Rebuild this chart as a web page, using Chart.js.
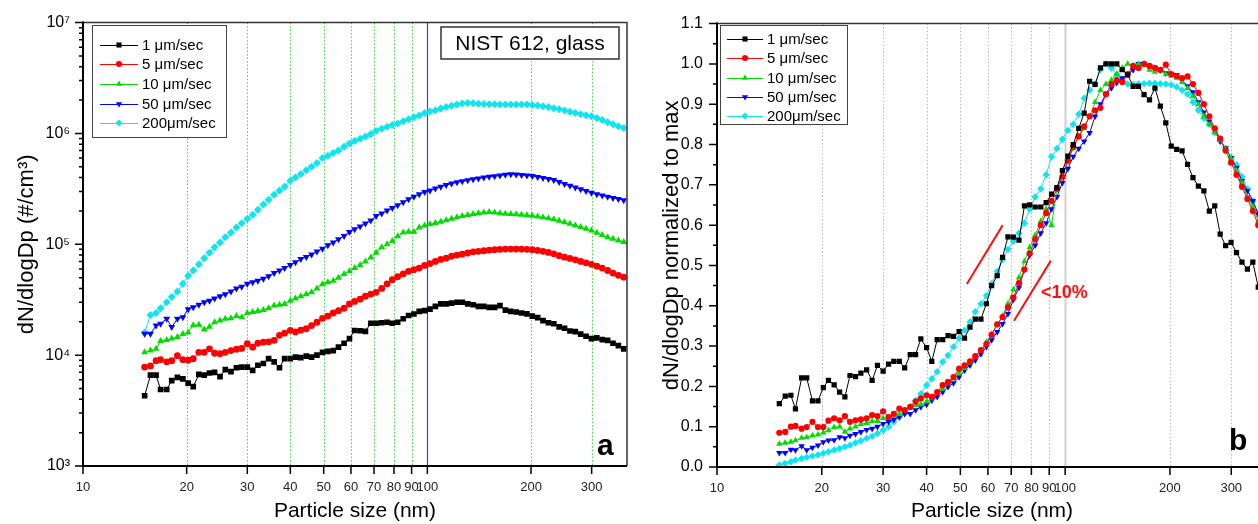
<!DOCTYPE html>
<html>
<head>
<meta charset="utf-8">
<script src="https://cdn.jsdelivr.net/npm/chart.js@4.4.0/dist/chart.umd.min.js"></script>
<style>
    html, body { margin: 0; padding: 0; background: #fff; overflow: hidden; }
    body { width: 1258px; height: 524px; position: relative; }
    .panel { position: absolute; top: 0; height: 524px; }
    #left { left: 0; width: 640px; }
    #right { left: 640px; width: 640px; }
</style>
</head>
<body>
<div class="panel" id="left"><canvas id="chartA"></canvas></div>
<div class="panel" id="right"><canvas id="chartB"></canvas></div>
<script>
// particle size channels (nm)
const sizes = [
    15.1, 15.7, 16.3, 16.8, 17.5, 18.1, 18.8, 19.5, 20.2, 20.9,
    21.7, 22.5, 23.3, 24.1, 25.0, 25.9, 26.9, 27.9, 28.9, 30.0,
    31.1, 32.2, 33.4, 34.6, 35.9, 37.2, 38.5, 40.0, 41.4, 42.9,
    44.5, 46.1, 47.8, 49.6, 51.4, 53.3, 55.2, 57.3, 59.4, 61.5,
    63.8, 66.1, 68.5, 71.0, 73.7, 76.4, 79.1, 82.0, 85.1, 88.2,
    91.4, 94.7, 98.2, 101.8, 105.5, 109.4, 113.4, 117.6, 121.9, 126.3,
    131.0, 135.8, 140.7, 145.9, 151.2, 156.8, 162.5, 168.5, 174.7, 181.1,
    187.7, 194.6, 201.7, 209.1, 216.7, 224.7, 232.9, 241.4, 250.3, 259.5,
    269.0, 278.8, 289.0, 299.6, 310.6, 322.0, 333.8, 346.0, 358.7, 371.8
];

// panel a: dN/dlogDp (#/cm3)
const leftSpeed1 = [
    4300, 6600, 6600, 4900, 4900, 5900, 6300, 6100, 5600, 5200,
    6700, 6600, 6900, 7000, 6400, 7400, 7100, 7700, 7800, 7800,
    7300, 8100, 8400, 9300, 8700, 7700, 9300, 9300, 9600, 9500,
    9800, 9600, 10000, 10600, 10800, 11000, 11800, 12800, 14100, 16700,
    16600, 16400, 19400, 19400, 19600, 19800, 19400, 19800, 21300, 22800,
    23500, 24800, 25200, 26000, 27500, 29000, 29000, 29500, 30000, 30000,
    29000, 28500, 27500, 27500, 27000, 27000, 28000, 25500, 24800, 24500,
    24000, 23600, 22500, 21800, 20500, 19600, 19200, 18000, 17500, 16500,
    16300, 15500, 14800, 14100, 14300, 13800, 13600, 12800, 12200, 11400
];
const leftSpeed5 = [
    7800, 8000, 8900, 9100, 8700, 8900, 9900, 9100, 9000, 9300,
    10600, 10600, 11400, 10400, 10300, 10600, 11000, 11300, 11500, 12700,
    11800, 12800, 13100, 13200, 13600, 15100, 15800, 16700, 16200, 16800,
    17300, 18500, 19800, 21500, 22500, 24000, 25200, 26500, 29000, 30500,
    32000, 34000, 35500, 36900, 40000, 44000, 48000, 51000, 54000, 57000,
    59000, 61000, 64500, 67000, 70000, 73000, 75000, 78000, 80000, 81500,
    83500, 85500, 86500, 87500, 88500, 89500, 90000, 90500, 90500, 90500,
    90500, 90000, 89500, 88000, 86500, 84500, 82000, 79000, 76500, 74500,
    72500, 70000, 68000, 66000, 63500, 61000, 58000, 55000, 52500, 50500
];
const leftSpeed10 = [
    10600, 11000, 11400, 13400, 13700, 14100, 14600, 15500, 16000, 18600,
    18800, 17000, 18000, 19800, 20500, 21300, 21500, 22500, 22000, 24000,
    24500, 25000, 25500, 26500, 28000, 28500, 29000, 31000, 32500, 34000,
    35500, 37000, 40000, 43500, 45500, 47000, 50000, 54000, 57000, 61000,
    65000, 70000, 76000, 84000, 94000, 100000, 107000, 118000, 128000, 130000,
    129000, 142000, 148000, 152000, 156000, 160000, 165000, 170000, 175000, 180000,
    184000, 188000, 191000, 194000, 196000, 194000, 191000, 189000, 188000, 187000,
    185000, 183000, 181000, 178000, 175000, 172000, 168000, 163000, 158000, 153000,
    148000, 143000, 138000, 133000, 127000, 121000, 116000, 112000, 108000, 105000
];
const leftSpeed50 = [
    15600, 15600, 18500, 19200, 21300, 17900, 21300, 22000, 26000, 27000,
    28500, 30000, 31000, 32500, 34000, 35500, 37500, 40000, 41500, 44000,
    45500, 47000, 49000, 51500, 55000, 58000, 61000, 65000, 69000, 73500,
    77000, 81000, 86000, 91000, 98000, 104000, 111000, 119000, 129000, 137000,
    145000, 154000, 164000, 180000, 190000, 202000, 213000, 225000, 240000, 255000,
    268000, 283000, 296000, 306000, 318000, 330000, 342000, 353000, 362000, 370000,
    378000, 386000, 393000, 400000, 406000, 412000, 418000, 424000, 428000, 426000,
    422000, 418000, 413000, 405000, 396000, 388000, 380000, 365000, 350000, 338000,
    326000, 314000, 302000, 292000, 283000, 275000, 268000, 262000, 256000, 250000
];
const leftSpeed200 = [
    16000, 23000, 24000, 26500, 30000, 33500, 37500, 44000, 52000, 58000,
    66000, 75000, 84000, 94000, 104000, 116000, 128000, 142000, 155000, 170000,
    185000, 205000, 228000, 252000, 280000, 305000, 333000, 375000, 400000, 430000,
    465000, 500000, 540000, 600000, 630000, 665000, 700000, 760000, 810000, 855000,
    895000, 940000, 990000, 1060000, 1100000, 1150000, 1190000, 1230000, 1290000, 1340000,
    1400000, 1450000, 1530000, 1580000, 1620000, 1680000, 1730000, 1780000, 1820000, 1860000,
    1880000, 1870000, 1850000, 1840000, 1830000, 1830000, 1820000, 1820000, 1820000, 1820000,
    1820000, 1820000, 1810000, 1790000, 1760000, 1730000, 1690000, 1650000, 1610000, 1570000,
    1530000, 1490000, 1460000, 1430000, 1380000, 1320000, 1260000, 1210000, 1160000, 1120000
];

// panel b: normalized to max
const rightSpeed1 = [
    0.157, 0.176, 0.178, 0.144, 0.221, 0.221, 0.164, 0.164, 0.197, 0.215,
    0.204, 0.186, 0.174, 0.227, 0.224, 0.233, 0.241, 0.215, 0.252, 0.238,
    0.255, 0.262, 0.262, 0.246, 0.279, 0.279, 0.318, 0.296, 0.262, 0.316,
    0.316, 0.326, 0.324, 0.336, 0.320, 0.347, 0.367, 0.367, 0.405, 0.450,
    0.475, 0.520, 0.571, 0.570, 0.563, 0.648, 0.650, 0.645, 0.645, 0.656,
    0.677, 0.693, 0.735, 0.771, 0.800, 0.840, 0.878, 0.957, 0.949, 0.990,
    1.000, 1.000, 1.000, 0.986, 0.973, 0.944, 0.944, 0.924, 0.911, 0.940,
    0.895, 0.854, 0.796, 0.788, 0.784, 0.751, 0.718, 0.697, 0.685, 0.635,
    0.648, 0.578, 0.549, 0.557, 0.532, 0.508, 0.491, 0.508, 0.446, 0.430
];
const rightSpeed5 = [
    0.085, 0.087, 0.100, 0.102, 0.095, 0.099, 0.112, 0.099, 0.099, 0.115,
    0.121, 0.116, 0.126, 0.112, 0.116, 0.118, 0.121, 0.129, 0.126, 0.138,
    0.124, 0.132, 0.145, 0.141, 0.149, 0.162, 0.170, 0.178, 0.174, 0.186,
    0.203, 0.211, 0.223, 0.244, 0.252, 0.262, 0.275, 0.290, 0.305, 0.328,
    0.354, 0.372, 0.396, 0.420, 0.456, 0.490, 0.530, 0.565, 0.600, 0.630,
    0.660, 0.690, 0.720, 0.760, 0.795, 0.820, 0.845, 0.870, 0.885, 0.891,
    0.925, 0.950, 0.960, 0.955, 0.975, 0.995, 0.990, 1.000, 0.995, 0.990,
    0.985, 0.998, 0.975, 0.970, 0.965, 0.969, 0.950, 0.928, 0.900, 0.870,
    0.840, 0.815, 0.785, 0.755, 0.725, 0.695, 0.665, 0.635, 0.600, 0.575
];
const rightSpeed10 = [
    0.057, 0.060, 0.062, 0.066, 0.072, 0.074, 0.078, 0.080, 0.085, 0.091,
    0.099, 0.100, 0.087, 0.095, 0.100, 0.106, 0.109, 0.114, 0.114, 0.121,
    0.121, 0.129, 0.131, 0.141, 0.149, 0.153, 0.155, 0.162, 0.170, 0.182,
    0.194, 0.207, 0.219, 0.232, 0.245, 0.258, 0.272, 0.290, 0.310, 0.330,
    0.352, 0.375, 0.405, 0.440, 0.470, 0.510, 0.545, 0.575, 0.610, 0.640,
    0.600, 0.690, 0.720, 0.760, 0.790, 0.820, 0.840, 0.870, 0.905, 0.935,
    0.950, 0.960, 0.975, 0.990, 1.000, 0.995, 1.000, 1.000, 0.985, 0.980,
    0.985, 0.975, 0.970, 0.965, 0.955, 0.940, 0.920, 0.900, 0.870, 0.850,
    0.830, 0.810, 0.790, 0.765, 0.735, 0.705, 0.670, 0.645, 0.610, 0.590
];
const rightSpeed50 = [
    0.035, 0.035, 0.043, 0.042, 0.052, 0.042, 0.048, 0.054, 0.062, 0.066,
    0.067, 0.074, 0.072, 0.078, 0.082, 0.087, 0.092, 0.095, 0.100, 0.107,
    0.112, 0.118, 0.124, 0.132, 0.132, 0.141, 0.149, 0.155, 0.165, 0.174,
    0.186, 0.199, 0.208, 0.223, 0.240, 0.252, 0.265, 0.280, 0.298, 0.315,
    0.335, 0.355, 0.380, 0.415, 0.445, 0.490, 0.525, 0.550, 0.580, 0.605,
    0.640, 0.670, 0.705, 0.740, 0.770, 0.790, 0.808, 0.829, 0.870, 0.900,
    0.925, 0.940, 0.953, 0.965, 0.975, 0.985, 1.000, 1.000, 0.995, 0.990,
    0.985, 0.977, 0.975, 0.973, 0.960, 0.945, 0.930, 0.905, 0.880, 0.857,
    0.837, 0.808, 0.792, 0.767, 0.742, 0.710, 0.685, 0.660, 0.627, 0.600
];
const rightSpeed200 = [
    0.005, 0.009, 0.013, 0.017, 0.021, 0.024, 0.027, 0.030, 0.034, 0.038,
    0.042, 0.046, 0.050, 0.054, 0.060, 0.065, 0.071, 0.076, 0.083, 0.091,
    0.100, 0.112, 0.124, 0.134, 0.149, 0.165, 0.182, 0.203, 0.219, 0.236,
    0.261, 0.277, 0.298, 0.319, 0.339, 0.360, 0.385, 0.405, 0.425, 0.455,
    0.485, 0.515, 0.540, 0.560, 0.580, 0.605, 0.640, 0.670, 0.690, 0.725,
    0.770, 0.790, 0.813, 0.835, 0.850, 0.875, 0.915, 0.935, 0.950, 0.986,
    1.000, 0.990, 0.973, 0.960, 0.950, 0.949, 0.950, 0.951, 0.952, 0.952,
    0.951, 0.950, 0.948, 0.943, 0.935, 0.925, 0.905, 0.885, 0.865, 0.850,
    0.830, 0.810, 0.790, 0.768, 0.750, 0.720, 0.690, 0.660, 0.630, 0.600
];

const seriesLabels = ["1 \u03bcm/sec", "5 \u03bcm/sec", "10 \u03bcm/sec", "50 \u03bcm/sec", "200\u03bcm/sec"];
const seriesColors = ["#000000", "#ff0000", "#00dd00", "#0000ff", "#10e4ee"];
const seriesMarkers = ["rect", "circle", "triangle", "triangle", "rectRot"];
const markerRotation = [0, 0, 0, 180, 0];

const xTicks = [10, 20, 30, 40, 50, 60, 70, 80, 90, 100, 200, 300];
const xTickLabels = ["10", "20", "30", "40", "50", "60", "70", "80", "90", "100", "200", "300"];
const gridSizes = [20, 30, 40, 50, 60, 70, 80, 90, 100, 200, 300];

const yTicksLeft = [1e3, 1e4, 1e5, 1e6, 1e7];
const yTickLabelsLeft = ["10\u00b3", "10\u2074", "10\u2075", "10\u2076", "10\u2077"];
const yTicksRight = [0, 0.1, 0.2, 0.3, 0.4, 0.5, 0.6, 0.7, 0.8, 0.9, 1.0, 1.1];
const yTickLabelsRight = ["0.0", "0.1", "0.2", "0.3", "0.4", "0.5", "0.6", "0.7", "0.8", "0.9", "1.0", "1.1"];

// red slope marks in panel b: [size, value] pairs
const slopeLines = [
    [[52.2, 0.454], [66.2, 0.600]],
    [[71.3, 0.363], [91.0, 0.512]]
];
const slopeNote = { text: "<10%", at: [85.3, 0.42] };

const FONT = "'Liberation Sans', Arial, Helvetica, sans-serif";
Chart.defaults.font.family = FONT;

// minor tick positions (no labels)
const yMinorLeft = [];
yTicksLeft.slice(0, -1).forEach(d => {
    for (let k = 2; k < 10; k++) yMinorLeft.push(k * d);
});
const yMinorRight = yTicksRight.slice(0, -1).map(v => v + 0.05);

function drawMarker(ctx, style, rot, x, y, r, color) {
    ctx.save();
    ctx.fillStyle = color;
    ctx.translate(x, y);
    ctx.rotate(rot * Math.PI / 180);
    ctx.beginPath();
    if (style === "rect") {
        ctx.rect(-r * 0.71, -r * 0.71, r * 1.42, r * 1.42);
    } else if (style === "circle") {
        ctx.arc(0, 0, r * 0.85, 0, Math.PI * 2);
    } else if (style === "triangle") {
        ctx.moveTo(0, -r);
        ctx.lineTo(r * 0.87, r * 0.5);
        ctx.lineTo(-r * 0.87, r * 0.5);
        ctx.closePath();
    } else {
        ctx.moveTo(0, -r);
        ctx.lineTo(r, 0);
        ctx.lineTo(0, r);
        ctx.lineTo(-r, 0);
        ctx.closePath();
    }
    ctx.fill();
    ctx.restore();
}

const panelDecor = {
    id: "panelDecor",
    beforeDatasetsDraw(chart, args, o) {
        const { ctx, chartArea: a } = chart;
        const x = chart.scales.x;
        ctx.save();
        gridSizes.forEach(v => {
            const px = Math.round(x.getPixelForValue(v)) + 0.5;
            const main = v === 100;
            ctx.beginPath();
            ctx.setLineDash(main ? [] : [1.5, 2]);
            ctx.strokeStyle = main ? o.mainColor : o.gridColor;
            ctx.lineWidth = main ? o.mainWidth : 1;
            ctx.moveTo(px, a.top);
            ctx.lineTo(px, a.bottom);
            ctx.stroke();
        });
        ctx.restore();
    },
    afterDatasetsDraw(chart, args, o) {
        const { ctx, chartArea: a } = chart;
        const x = chart.scales.x, y = chart.scales.y;
        ctx.save();
        ctx.setLineDash([]);

        // slope marks (panel b only)
        if (o.slopes) {
            ctx.strokeStyle = "#ff1010";
            ctx.lineWidth = 2;
            slopeLines.forEach(seg => {
                ctx.beginPath();
                ctx.moveTo(x.getPixelForValue(seg[0][0]), y.getPixelForValue(seg[0][1]));
                ctx.lineTo(x.getPixelForValue(seg[1][0]), y.getPixelForValue(seg[1][1]));
                ctx.stroke();
            });
            ctx.fillStyle = "#ff1010";
            ctx.font = "bold 18px " + FONT;
            ctx.textAlign = "left";
            ctx.textBaseline = "alphabetic";
            ctx.fillText(slopeNote.text, x.getPixelForValue(slopeNote.at[0]), y.getPixelForValue(slopeNote.at[1]));
        }

        // tick marks
        ctx.strokeStyle = "#000";
        ctx.lineWidth = 1.5;
        ctx.beginPath();
        xTicks.forEach(v => {
            const px = x.getPixelForValue(v);
            ctx.moveTo(px, a.bottom);
            ctx.lineTo(px, a.bottom + 8);
        });
        o.yMajor.forEach(v => {
            const py = y.getPixelForValue(v);
            ctx.moveTo(a.left - 8, py);
            ctx.lineTo(a.left, py);
        });
        o.yMinor.forEach(v => {
            const py = y.getPixelForValue(v);
            ctx.moveTo(a.left - 4, py);
            ctx.lineTo(a.left, py);
        });
        ctx.stroke();

        // frame
        ctx.strokeStyle = "#333";
        ctx.lineWidth = 1.5;
        ctx.beginPath();
        ctx.moveTo(a.left, a.top);
        ctx.lineTo(a.right, a.top);
        ctx.lineTo(a.right, a.bottom);
        ctx.stroke();
        ctx.strokeStyle = "#000";
        ctx.lineWidth = 2;
        ctx.beginPath();
        ctx.moveTo(a.left, a.top - 1);
        ctx.lineTo(a.left, a.bottom);
        ctx.lineTo(a.right, a.bottom);
        ctx.stroke();

        // legend
        const L = o.legend;
        ctx.fillStyle = "#fff";
        ctx.fillRect(L.x, L.y, L.w, L.h);
        ctx.strokeStyle = "#444";
        ctx.lineWidth = 1;
        ctx.strokeRect(L.x + 0.5, L.y + 0.5, L.w, L.h);
        ctx.font = "15px " + FONT;
        ctx.textBaseline = "middle";
        ctx.textAlign = "left";
        seriesLabels.forEach((lab, i) => {
            const ry = L.rows[i];
            ctx.strokeStyle = seriesColors[i];
            ctx.lineWidth = 1;
            ctx.beginPath();
            ctx.moveTo(L.lineX0, ry + 0.5);
            ctx.lineTo(L.lineX1, ry + 0.5);
            ctx.stroke();
            drawMarker(ctx, seriesMarkers[i], markerRotation[i], (L.lineX0 + L.lineX1) / 2, ry, 3.6, seriesColors[i]);
            ctx.fillStyle = "#000";
            ctx.fillText(lab, L.textX, ry + 1);
        });

        // panel tag
        if (o.box) {
            const B = o.box;
            ctx.fillStyle = "#fff";
            ctx.fillRect(B.x, B.y, B.w, B.h);
            ctx.strokeStyle = "#333";
            ctx.lineWidth = 1.5;
            ctx.strokeRect(B.x, B.y, B.w, B.h);
            ctx.fillStyle = "#000";
            ctx.font = "21px " + FONT;
            ctx.textAlign = "center";
            ctx.textBaseline = "middle";
            ctx.fillText(B.text, B.x + B.w / 2, B.y + B.h / 2 + 1);
        }
        ctx.fillStyle = "#000";
        ctx.font = "bold 30px " + FONT;
        ctx.textAlign = "left";
        ctx.textBaseline = "alphabetic";
        ctx.fillText(o.tag.text, o.tag.x, o.tag.y);
        ctx.restore();
    }
};

function makeDatasets(list, radius) {
    return list.map((vals, i) => ({
        label: seriesLabels[i],
        data: sizes.map((s, j) => ({ x: s, y: vals[j] })),
        borderColor: seriesColors[i],
        backgroundColor: seriesColors[i],
        borderWidth: 1,
        pointStyle: seriesMarkers[i],
        pointRotation: markerRotation[i],
        pointRadius: seriesMarkers[i] === "circle" ? radius - 0.6 : radius,
        pointBorderWidth: 0,
        tension: 0
    }));
}

function xScale(height) {
    return {
        type: "logarithmic",
        min: 10,
        max: 380,
        afterBuildTicks: s => { s.ticks = xTicks.map(v => ({ value: v })); },
        afterFit: s => { s.height = height; },
        grid: { display: false, drawTicks: false },
        border: { display: false },
        ticks: {
            autoSkip: false,
            maxRotation: 0,
            padding: 14,
            color: "#222",
            font: { size: 13 },
            callback: (v, i) => xTickLabels[i]
        },
        title: {
            display: true,
            text: "Particle size (nm)",
            color: "#000",
            font: { size: 21 },
            padding: { top: 0, bottom: 0 }
        }
    };
}

// panel a
new Chart(document.getElementById("chartA"), {
    type: "line",
    data: {
        datasets: makeDatasets([leftSpeed1, leftSpeed5, leftSpeed10, leftSpeed50, leftSpeed200], 4)
    },
    options: {
        responsive: true,
        maintainAspectRatio: false,
        animation: false,
        events: [],
        layout: { padding: { top: 21, right: 13, bottom: 0, left: 0 } },
        plugins: {
            legend: { display: false },
            tooltip: { enabled: false },
            panelDecor: {
                gridColor: "#33dd33",
                mainColor: "#3a3aff",
                mainWidth: 1.2,
                yMajor: yTicksLeft,
                yMinor: yMinorLeft,
                legend: { x: 92, y: 25, w: 134, h: 112, rows: [45, 64, 84, 104, 123], lineX0: 100, lineX1: 138, textX: 142 },
                box: { x: 441, y: 27, w: 178, h: 32, text: "NIST 612, glass" },
                tag: { text: "a", x: 597, y: 455 }
            }
        },
        scales: {
            x: xScale(58),
            y: {
                type: "logarithmic",
                min: 1e3,
                max: 1e7,
                afterBuildTicks: s => { s.ticks = yTicksLeft.map(v => ({ value: v })); },
                afterFit: s => { s.width = 83; },
                grid: { display: false, drawTicks: false },
                border: { display: false },
                ticks: {
                    padding: 13,
                    color: "#000",
                    font: { size: 16 },
                    callback: (v, i) => yTickLabelsLeft[i]
                },
                title: {
                    display: true,
                    text: "dN/dlogDp (#/cm\u00b3)",
                    color: "#000",
                    font: { size: 22 },
                    padding: { top: 14, bottom: 0 }
                }
            }
        }
    },
    plugins: [panelDecor]
});

// panel b
new Chart(document.getElementById("chartB"), {
    type: "line",
    data: {
        datasets: makeDatasets([rightSpeed1, rightSpeed5, rightSpeed10, rightSpeed50, rightSpeed200], 3.7)
    },
    options: {
        responsive: true,
        maintainAspectRatio: false,
        animation: false,
        events: [],
        layout: { padding: { top: 22, right: 13, bottom: 0, left: 0 } },
        plugins: {
            legend: { display: false },
            tooltip: { enabled: false },
            panelDecor: {
                gridColor: "#b8b8b8",
                mainColor: "#cfcfcf",
                mainWidth: 2,
                yMajor: yTicksRight,
                yMinor: yMinorRight,
                slopes: true,
                legend: { x: 80, y: 25, w: 127, h: 99, rows: [39, 58, 78, 97, 116], lineX0: 87, lineX1: 123, textX: 127 },
                tag: { text: "b", x: 589, y: 450 }
            }
        },
        scales: {
            x: xScale(57),
            y: {
                type: "linear",
                min: 0,
                max: 1.1,
                afterBuildTicks: s => { s.ticks = yTicksRight.map(v => ({ value: v })); },
                afterFit: s => { s.width = 77; },
                grid: { display: false, drawTicks: false },
                border: { display: false },
                ticks: {
                    padding: 14,
                    color: "#000",
                    font: { size: 16 },
                    callback: (v, i) => yTickLabelsRight[i]
                },
                title: {
                    display: true,
                    text: "dN/dlogDp normalized to max",
                    color: "#000",
                    font: { size: 22 },
                    padding: { top: 19, bottom: 0 }
                }
            }
        }
    },
    plugins: [panelDecor]
});
</script>
</body>
</html>
